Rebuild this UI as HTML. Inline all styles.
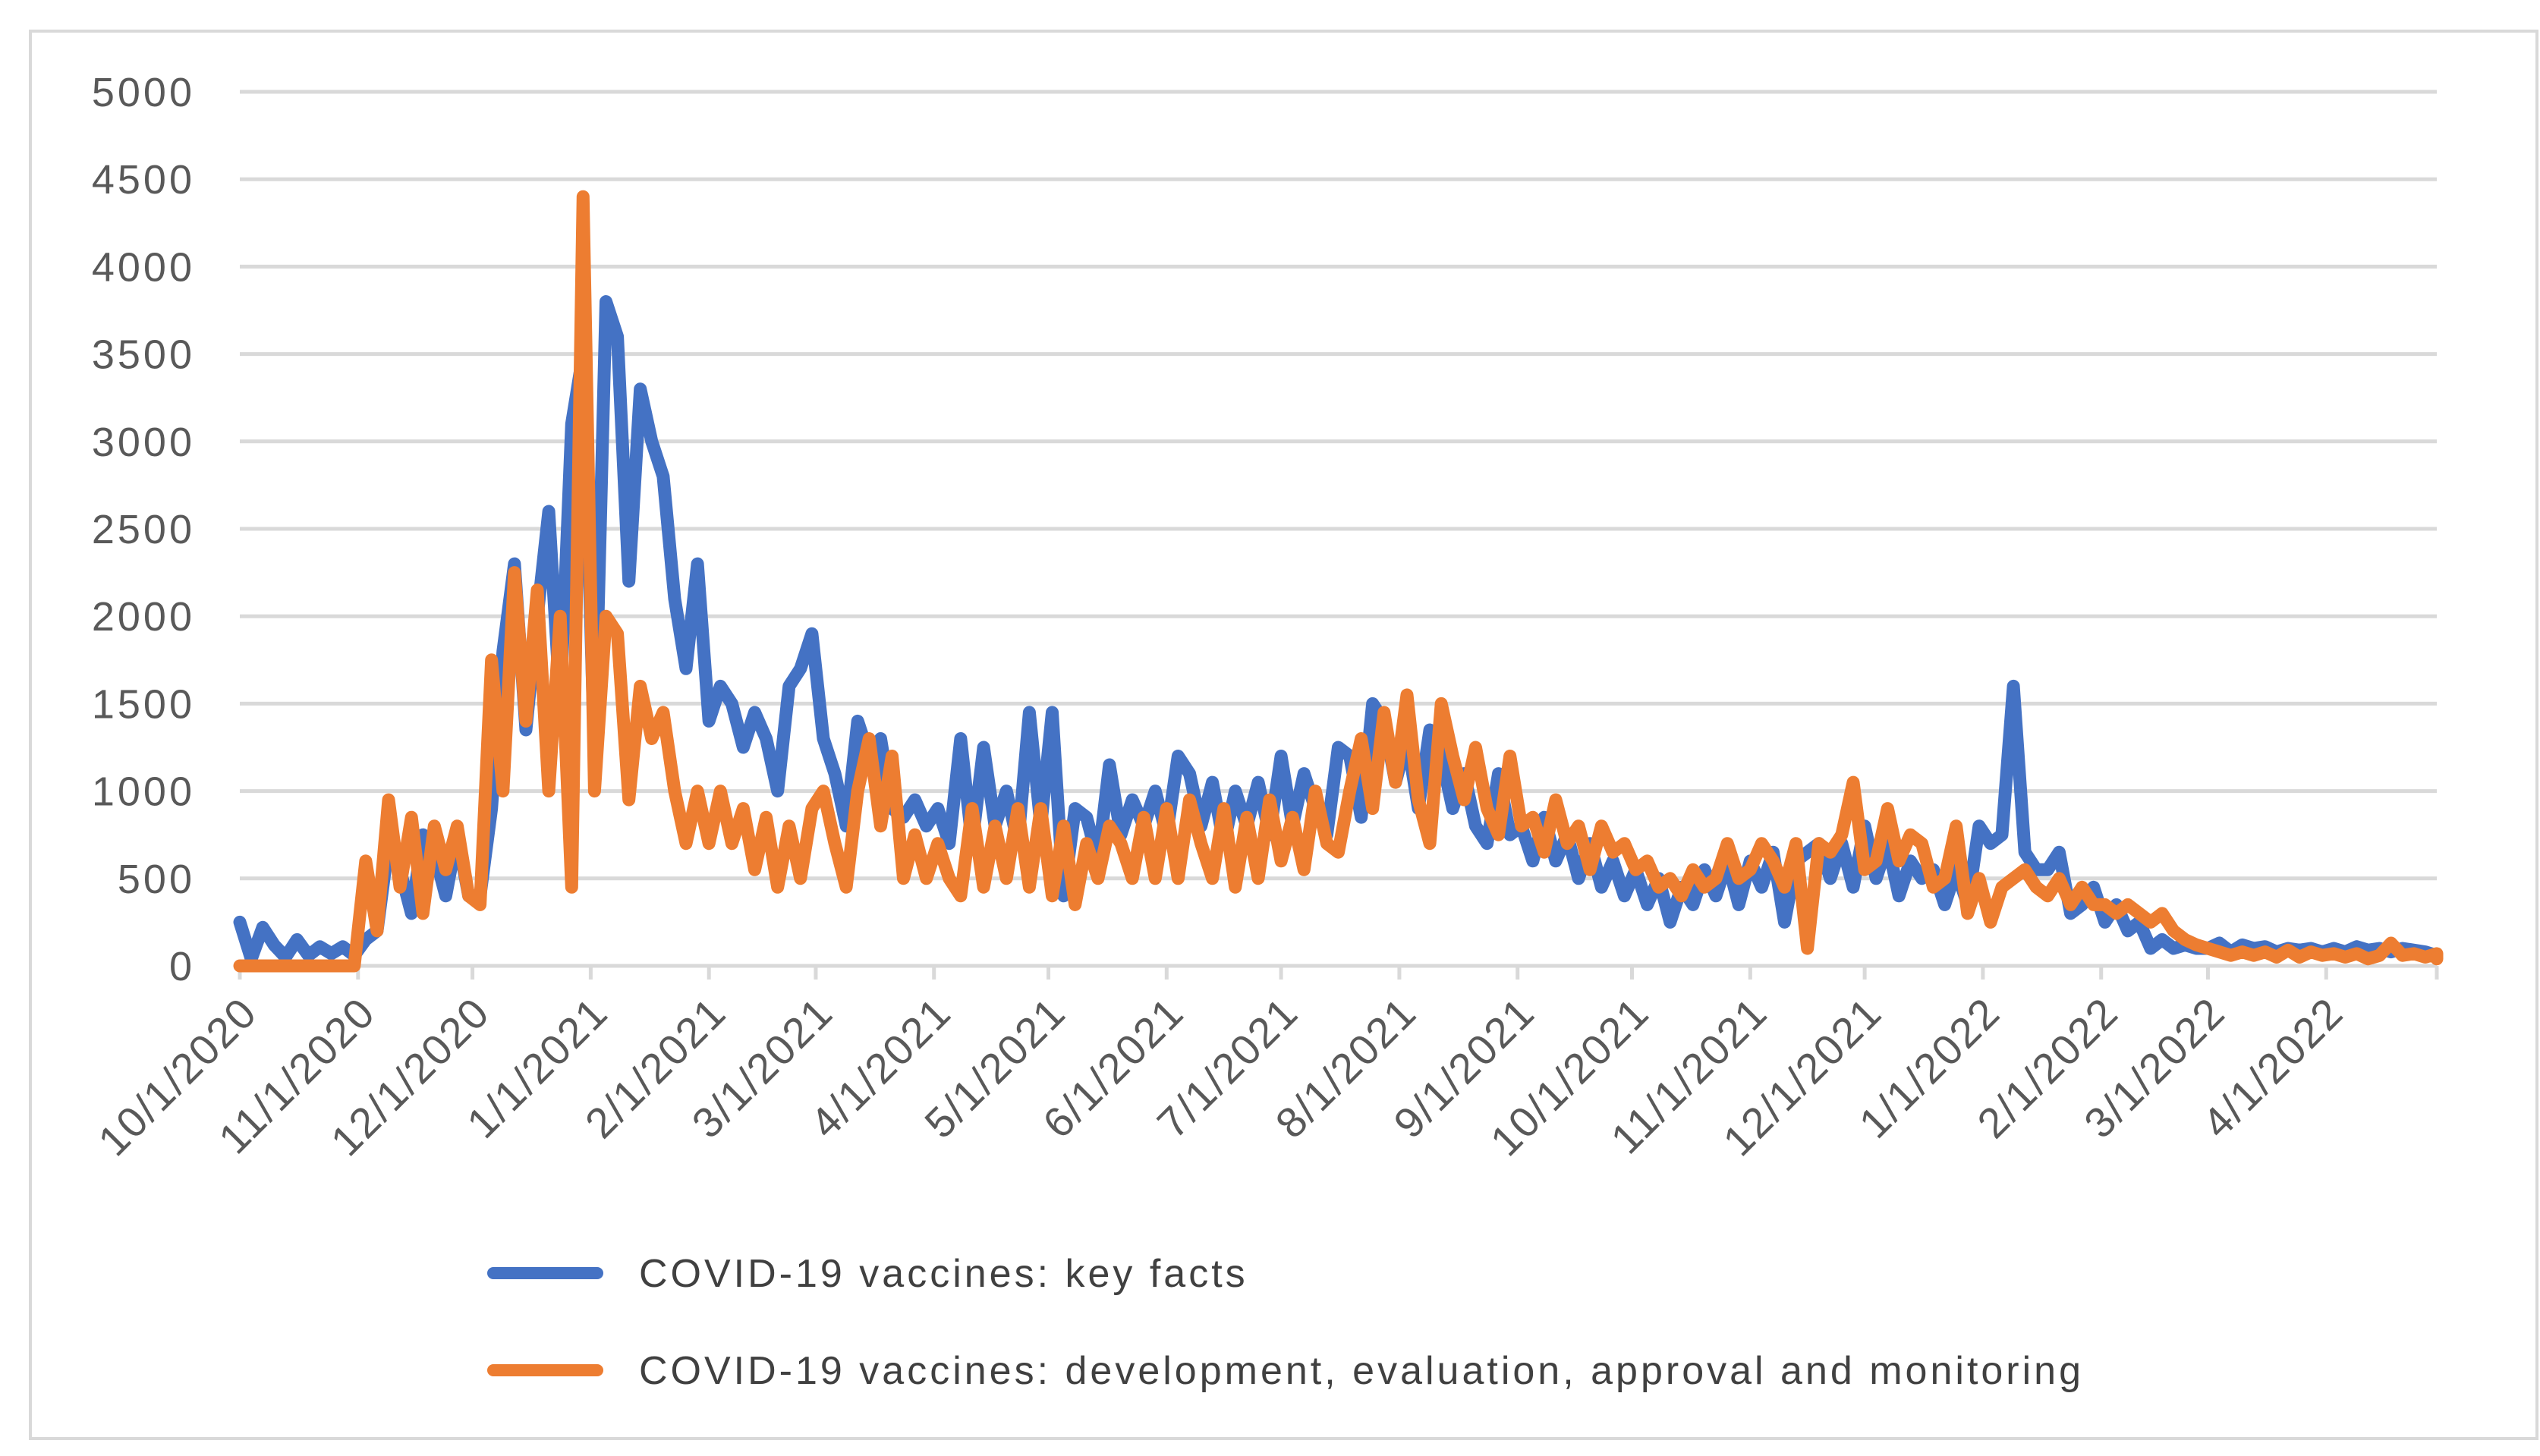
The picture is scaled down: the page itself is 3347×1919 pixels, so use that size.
<!DOCTYPE html>
<html><head><meta charset="utf-8"><style>
html,body{margin:0;padding:0;background:#fff;}
svg{display:block;font-family:"Liberation Sans",sans-serif;}
</style></head><body>
<svg id="chart" width="3347" height="1919" viewBox="0 0 3347 1919" xmlns="http://www.w3.org/2000/svg">
<rect x="40" y="41" width="3303" height="1855" fill="#fff" stroke="#d9d9d9" stroke-width="4"/>
<g id="grid"></g><g id="yl"></g><g id="xl"></g><g id="series"></g>
<g>
<line x1="650" y1="1678" x2="787" y2="1678" stroke="#4472c4" stroke-width="16" stroke-linecap="round"/>
<text x="842" y="1696" font-size="52" fill="#404040" letter-spacing="4">COVID-19 vaccines: key facts</text>
<line x1="650" y1="1806" x2="787" y2="1806" stroke="#ed7d31" stroke-width="16" stroke-linecap="round"/>
<text x="842" y="1824" font-size="52" fill="#404040" letter-spacing="4">COVID-19 vaccines: development, evaluation, approval and monitoring</text>
</g>
</svg>
<script>
const yTicks=[0,500,1000,1500,2000,2500,3000,3500,4000,4500,5000];
const monthLabels=["10/1/2020","11/1/2020","12/1/2020","1/1/2021","2/1/2021","3/1/2021","4/1/2021","5/1/2021","6/1/2021","7/1/2021","8/1/2021","9/1/2021","10/1/2021","11/1/2021","12/1/2021","1/1/2022","2/1/2022","3/1/2022","4/1/2022"];
const monthDays=[0,31,61,92,123,151,182,212,243,273,304,335,365,396,426,457,488,516,547];
const dayStep=3;
const keyFacts=[250,40,220,120,50,150,60,110,70,110,60,
150,200,700,550,300,750,650,400,750,400,
400,900,1800,2300,1350,2000,2600,1500,3100,3500,
1200,3800,3600,2200,3300,3000,2800,2100,1700,2300,
1400,1600,1500,1250,1450,1300,1000,1600,1700,1900,
1300,1100,800,1400,1200,1300,900,850,950,800,
900,700,1300,700,1250,800,1000,700,1450,800,
1450,400,900,850,600,1150,750,950,800,1000,
750,1200,1100,800,1050,700,1000,800,1050,750,
1200,800,1100,900,750,1250,1200,850,1500,1400,1050,
1300,900,1350,1200,900,1100,800,700,1100,750,
800,600,850,600,750,500,700,450,600,400,
550,350,500,250,450,350,550,400,600,350,
600,450,650,250,600,650,700,500,700,450,
800,500,700,400,600,500,550,350,550,350,
800,700,750,1600,650,550,550,650,300,350,
450,250,350,200,250,100,150,100,120,100,
100,130,80,120,100,110,80,100,90,100,80,100,80,110,90,100,80,100,90,80,60];
const development=[0,0,0,0,0,0,0,0,0,0,0,
600,200,950,450,850,300,800,550,800,400,
350,1750,1000,2250,1400,2150,1000,2000,450,4400,
1000,2000,1900,950,1600,1300,1450,1000,700,1000,
700,1000,700,900,550,850,450,800,500,900,
1000,700,450,1000,1300,800,1200,500,750,500,
700,500,400,900,450,800,500,900,450,900,
400,800,350,700,500,800,700,500,850,500,
900,500,950,700,500,900,450,850,500,950,600,
850,550,1000,700,650,1000,1300,900,1450,1050,1550,
950,700,1500,1200,950,1250,900,750,1200,800,
850,650,950,700,800,550,800,650,700,550,
600,450,500,400,550,450,500,700,500,550,
700,600,450,700,100,700,650,750,1050,550,
600,900,600,750,700,450,500,800,300,500,
250,450,500,550,450,400,500,350,450,350,
350,300,350,300,250,300,200,150,120,100,
80,60,80,60,80,50,90,50,80,60,70,50,70,40,60,130,60,70,50,70,60,40];
const X0=316,X1=3211,Y0=1273,Y1=121,DMAX=576,VMAX=5000;
function xs(d){return X0+(X1-X0)*d/DMAX;}
function ys(v){return Y0-(Y0-Y1)*v/VMAX;}
const NS="http://www.w3.org/2000/svg";
function mk(tag,attrs,parent){const e=document.createElementNS(NS,tag);for(const k in attrs)e.setAttribute(k,attrs[k]);parent.appendChild(e);return e;}
const grid=document.getElementById('grid'),yl=document.getElementById('yl'),xl=document.getElementById('xl'),ser=document.getElementById('series');
yTicks.forEach(v=>{
 const l=mk('line',{x1:X0,x2:X1,y1:ys(v),y2:ys(v),stroke:'#d9d9d9','stroke-width':5},grid);
 
 
 const t=mk('text',{x:257,y:ys(v)+19,'text-anchor':'end','font-size':54,fill:'#595959','letter-spacing':4},yl);
 t.textContent=v;
 
 
});
monthDays.concat([DMAX]).forEach(d=>{
 const l=mk('line',{x1:xs(d),x2:xs(d),y1:Y0,y2:Y0+18,stroke:'#d9d9d9','stroke-width':5},grid);
 
 
});
monthLabels.forEach((s,i)=>{
 const x=xs(monthDays[i])+26,y=1338;
 const t=mk('text',{x:x,y:y,'text-anchor':'end','font-size':56,fill:'#595959','letter-spacing':2,transform:`rotate(-45 ${x} ${y})`},xl);
 t.textContent=s;
 
 
});
function drawSeries(vals,color,name){
 const pts=vals.map((v,i)=>xs(Math.min(i*dayStep,DMAX)).toFixed(1)+','+ys(v).toFixed(1)).join(' ');
 const p=mk('polyline',{points:pts,fill:'none',stroke:color,'stroke-width':17,'stroke-linejoin':'round','stroke-linecap':'round'},ser);
 
 
}
drawSeries(keyFacts,'#4472c4','series-key-facts');
drawSeries(development,'#ed7d31','series-development');
</script>
</body></html>
